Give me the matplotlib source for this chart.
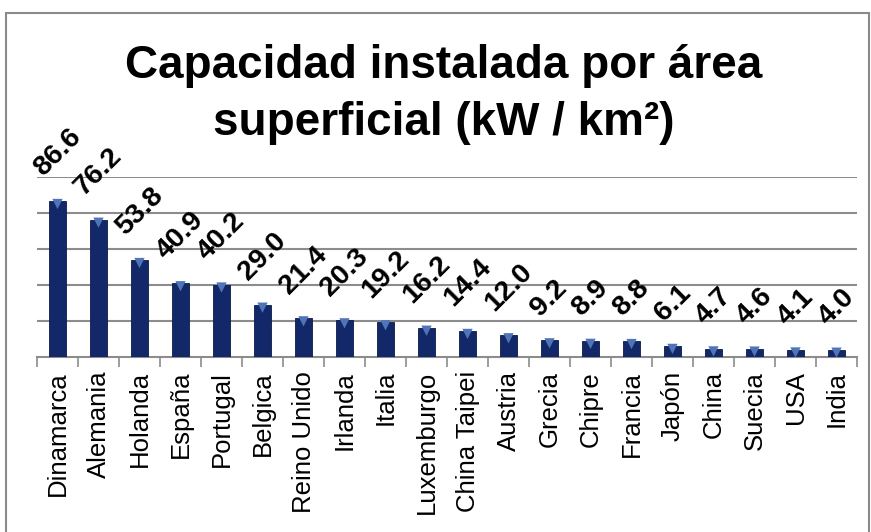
import matplotlib
matplotlib.use("Agg")
import matplotlib.pyplot as plt
import matplotlib.patches as mpatches
import numpy as np

# ── Datos ─────────────────────────────────────────────────────────────────────
paises = ["Dinamarca", "Alemania", "Holanda", "España", "Portugal", "Belgica",
          "Reino Unido", "Irlanda", "Italia", "Luxemburgo", "China Taipei",
          "Austria", "Grecia", "Chipre", "Francia", "Japón", "China", "Suecia",
          "USA", "India"]
kw_km2 = [86.6, 76.2, 53.8, 40.9, 40.2, 29.0, 21.4, 20.3, 19.2, 16.2, 14.4,
          12.0, 9.2, 8.9, 8.8, 6.1, 4.7, 4.6, 4.1, 4.0]
titulo_1 = "Capacidad instalada por área"
titulo_2 = "superficial (kW / km²)"

plt.rcParams["font.family"] = ["Liberation Sans", "DejaVu Sans"]

W, H = 871, 532
fig = plt.figure(figsize=(W / 100, H / 100), dpi=100)
fig.patch.set_facecolor("white")

# marco del gráfico
fig.add_artist(mpatches.Rectangle(
    (6 / W, -0.05), (863 / W), 1.05 - 13 / H, transform=fig.transFigure,
    fill=False, edgecolor="#8a8a8a", linewidth=1.5))

ax = fig.add_axes([37 / W, 1 - 357 / H, 820 / W, 180 / H])
x = np.arange(len(paises))

ax.bar(x, kw_km2, width=0.4, color="#122868", edgecolor="#0b1a4a",
       linewidth=0.6, zorder=3)
# brillo triangular en la parte superior
ax.scatter(x, np.array(kw_km2) - 1.6, marker="v", s=55, color="#5074b8",
           edgecolors="none", zorder=4)

for xi, v in zip(x, kw_km2):
    ax.annotate(f"{v:.1f}", (xi, v), xytext=(0, 14), textcoords="offset points",
                rotation=45, ha="center", va="bottom", fontsize=20.5,
                fontweight="bold", color="black", annotation_clip=False)

ax.set_xlim(-0.5, len(paises) - 0.5)
ax.set_ylim(0, 100)
ax.set_yticks([])
for yv in [20, 40, 60, 80, 100]:
    ax.axhline(yv, color="#8c8c8c", linewidth=1.5, zorder=1)

ax.set_xticks(x)
ax.set_xticklabels(paises, rotation=90, fontsize=18.5, va="top", ha="center")
ax.tick_params(axis="x", which="major", length=0, pad=10)
ax.set_xticks(np.arange(len(paises) + 1) - 0.5, minor=True)
ax.tick_params(axis="x", which="minor", length=7, width=1.2, color="#8c8c8c")

for name, sp in ax.spines.items():
    sp.set_visible(name == "bottom")
ax.spines["bottom"].set_color("#8c8c8c")
ax.spines["bottom"].set_linewidth(1.5)
ax.patch.set_alpha(0)

# título en dos líneas (líneas base en y≈78 y y≈135 px)
fig.text(444 / W, 1 - 78 / H, titulo_1, ha="center", va="baseline",
         fontsize=33, fontweight="bold")
fig.text(444 / W, 1 - 135 / H, titulo_2, ha="center", va="baseline",
         fontsize=33, fontweight="bold")

fig.savefig("out.png", dpi=100)
